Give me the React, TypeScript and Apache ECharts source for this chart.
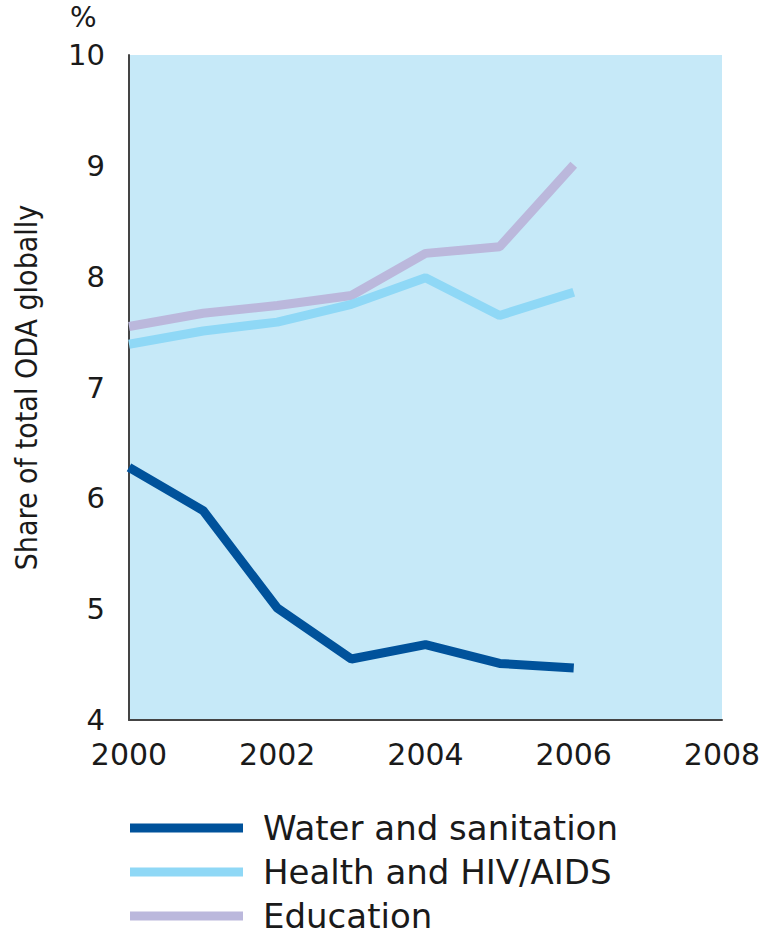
import React, { useEffect, useRef } from "react";
import * as echarts from "echarts";

const years = [2000, 2001, 2002, 2003, 2004, 2005, 2006];
const water = [6.28, 5.89, 5.01, 4.55, 4.68, 4.51, 4.47];
const health = [7.39, 7.51, 7.59, 7.75, 7.99, 7.65, 7.86];
const education = [7.55, 7.67, 7.74, 7.83, 8.21, 8.27, 9.01];
const seriesNames = ["Water and sanitation", "Health and HIV/AIDS", "Education"];
const colors = ["#00529b", "#8fd8f6", "#bbb8dc"];

const FONT = "'DejaVu Sans', sans-serif";
const NARROW = "'Liberation Sans Narrow', 'DejaVu Sans Condensed', sans-serif";

export default function App() {
  const ref = useRef<HTMLDivElement>(null);
  useEffect(() => {
    document.body.style.margin = "0";
    if (!ref.current) return;
    const chart = echarts.init(ref.current, null, { renderer: "svg" });
    const datasets = [water, health, education];
    chart.setOption({
      animation: false,
      backgroundColor: "#ffffff",
      grid: {
        left: 129, right: 52, top: 55, bottom: 216,
        backgroundColor: "#c6e9f8", show: true, borderWidth: 0,
        containLabel: false, outerBoundsMode: "none",
      },
      graphic: [
        { type: "text", left: 70, top: 3, style: { text: "%", fontSize: 28, fontFamily: FONT, fill: "#1a1a1a" } },
      ],
      xAxis: {
        type: "value",
        min: 2000,
        max: 2008,
        interval: 2,
        axisLine: { show: true, lineStyle: { color: "#444", width: 2 } },
        axisTick: { show: false },
        splitLine: { show: false },
        axisLabel: { fontSize: 30, fontFamily: FONT, color: "#1a1a1a", margin: 19, formatter: (v: number) => String(v) },
      },
      yAxis: {
        type: "value",
        min: 4,
        max: 10,
        interval: 1,
        name: "Share of total ODA globally",
        nameLocation: "middle",
        nameGap: 88,
        nameRotate: 90,
        nameTextStyle: { fontSize: 30, fontFamily: NARROW, color: "#1a1a1a" },
        axisLine: { show: true, lineStyle: { color: "#444", width: 2 } },
        axisTick: { show: false },
        splitLine: { show: false },
        axisLabel: { fontSize: 29, fontFamily: FONT, color: "#1a1a1a", margin: 24 },
      },
      legend: {
        orient: "vertical",
        left: 130,
        top: 808,
        padding: 0,
        itemWidth: 113,
        itemHeight: 9,
        itemGap: 4,
        icon: "rect",
        textStyle: { fontSize: 34, fontFamily: FONT, color: "#1a1a1a", lineHeight: 40, padding: [0, 0, 0, 15] },
        data: seriesNames,
      },
      series: seriesNames.map((n, i) => ({
        name: n,
        type: "line",
        data: years.map((y, j) => [y, datasets[i][j]]),
        showSymbol: false,
        symbol: "none",
        lineStyle: { color: colors[i], width: 9 },
        itemStyle: { color: colors[i] },
        z: 3 - i,
      })),
    });
    return () => chart.dispose();
  }, []);
  return <div ref={ref} style={{ width: 774, height: 936 }} />;
}
